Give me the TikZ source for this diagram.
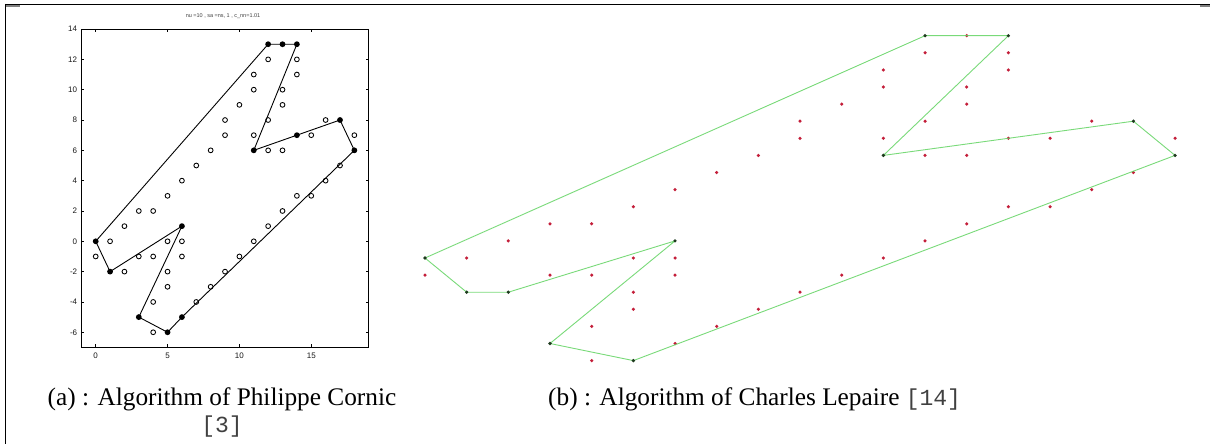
\documentclass[tikz,border=0pt]{standalone}
\usepackage{fontspec}
\setmainfont{Liberation Serif}
\newfontfamily\monof{Liberation Mono}
\newfontfamily\plotf{Liberation Sans}
\definecolor{hullgreen}{HTML}{62D462}
\definecolor{dotred}{HTML}{C41E3A}
\definecolor{vtxdark}{HTML}{1E3A1E}
\begin{document}
\begin{tikzpicture}[x=1pt,y=-1pt,
  opendot/.style={circle,draw=black,line width=0.85pt,inner sep=0pt,minimum size=4.8pt},
  filldot/.style={circle,fill=black,inner sep=0pt,minimum size=5.8pt},
  reddot/.style={circle,fill=dotred,inner sep=0pt,minimum size=3.5pt},
  vtxdot/.style={circle,fill=vtxdark,inner sep=0pt,minimum size=3.6pt},
  hullL/.style={line width=0.9pt,black,line join=round},
  hullR/.style={line width=0.9pt,hullgreen,line join=round},
  ticklab/.style={inner sep=0pt,font=\plotf\fontsize{8}{9}\selectfont,text=black!90},
  capstyle/.style={inner sep=0pt,font=\fontsize{25.3}{30}\selectfont},
  monostyle/.style={inner sep=0pt,font=\monof\fontsize{23}{28}\selectfont,text=black!75},
  frame/.style={line width=1.1pt,black}]
\useasboundingbox (0,0) rectangle (1210,444);
\fill[white] (0,0) rectangle (1210,444);
% outer border
\draw[frame] (5,4.5) -- (1210,4.5);
\draw[frame] (5.5,4) -- (5.5,444);
\draw[gray,line width=1.5pt] (6,5.8) -- (20,5.8);
\draw[gray,line width=1.5pt] (1200,5.8) -- (1210,5.8);
% ---------------- left plot ----------------
\node[inner sep=0pt,font=\plotf\fontsize{5.5}{6}\selectfont,text=black!75] (ttl) at (223,16) {nu =10 , sa =ns, 1 , c\_nn=1.01};
\begin{scope}[shift={(95.7,241.3)},x=14.37pt,y=15.16pt]
  \draw[line width=0.9pt] (-1,-7) rectangle (19,14);
  \foreach \v in {0,5,10,15} {
    \draw[line width=0.6pt] (\v,-7) -- ++(0,3pt);
    \draw[line width=0.6pt] (\v,14) -- ++(0,-3pt);
    \node[ticklab,anchor=north] at ([yshift=-5pt]\v,-7) {\v};
  }
  \foreach \v in {-6,-4,...,14} {
    \draw[line width=0.6pt] (-1,\v) -- ++(3pt,0);
    \draw[line width=0.6pt] (19,\v) -- ++(-3pt,0);
    \node[ticklab,anchor=east] at ([xshift=-4pt]-1,\v) {\v};
  }
  \foreach \p in {(12,12),(14,12),(11,11),(14,11),(11,10),(13,10),(10,9),(13,9),(9,8),(12,8),(16,8),(9,7),(11,7),(15,7),(18,7),(12,6),(13,6),(8,6),(7,5),(17,5),(6,4),(16,4),(5,3),(14,3),(15,3),(3,2),(4,2),(13,2),(2,1),(12,1),(1,0),(5,0),(6,0),(11,0),(0,-1),(3,-1),(4,-1),(6,-1),(10,-1),(2,-2),(5,-2),(9,-2),(5,-3),(8,-3),(4,-4),(7,-4),(4,-6)}
    \node[opendot] at \p {};
  \coordinate (L1) at (0,0);
  \coordinate (L2) at (12,13);
  \coordinate (L3) at (13,13);
  \coordinate (L4) at (14,13);
  \coordinate (L5) at (11,6);
  \coordinate (L6) at (14,7);
  \coordinate (L7) at (17,8);
  \coordinate (L8) at (18,6);
  \coordinate (L9) at (6,-5);
  \coordinate (L10) at (5,-6);
  \coordinate (L11) at (3,-5);
  \coordinate (L12) at (6,1);
  \coordinate (L13) at (1,-2);
  \draw[hullL] (L1) -- (L2) -- (L3) -- (L4) -- (L5) -- (L6) -- (L7) -- (L8) -- (L9) -- (L10) -- (L11) -- (L12) -- (L13) -- cycle;
  \foreach \n in {L1,L2,L3,L4,L5,L6,L7,L8,L9,L10,L11,L12,L13}
    \node[filldot] at (\n) {};
\end{scope}
% ---------------- right plot ----------------
\begin{scope}[shift={(425,258)},x=41.67pt,y=17.1pt]
  \foreach \p in {(12,12),(14,12),(11,11),(14,11),(11,10),(13,10),(10,9),(13,9),(9,8),(12,8),(16,8),(9,7),(11,7),(15,7),(18,7),(12,6),(13,6),(8,6),(7,5),(17,5),(6,4),(16,4),(5,3),(14,3),(15,3),(3,2),(4,2),(13,2),(2,1),(12,1),(1,0),(5,0),(6,0),(11,0),(0,-1),(3,-1),(4,-1),(6,-1),(10,-1),(5,-2),(9,-2),(5,-3),(8,-3),(4,-4),(7,-4),(4,-6),(13,13),(14,7),(6,-5)}
    \node[reddot] at \p {};
  \coordinate (R1) at (0,0);
  \coordinate (R2) at (12,13);
  \coordinate (R3) at (14,13);
  \coordinate (R4) at (11,6);
  \coordinate (R5) at (17,8);
  \coordinate (R6) at (18,6);
  \coordinate (R7) at (5,-6);
  \coordinate (R8) at (3,-5);
  \coordinate (R9) at (6,1);
  \coordinate (R10) at (2,-2);
  \coordinate (R11) at (1,-2);
  \draw[hullR,opacity=0.85] (R1) -- (R2) -- (R3) -- (R4) -- (R5) -- (R6) -- (R7) -- (R8) -- (R9) -- (R10) -- (R11) -- cycle;
  \foreach \n in {R1,R2,R3,R4,R5,R6,R7,R8,R9,R10,R11}
    \node[vtxdot] at (\n) {};
\end{scope}
% ---------------- captions ----------------
\node[capstyle,anchor=base] (capa) at (222,405) {(a) : Algorithm of Philippe Cornic};
\node[monostyle,anchor=base] (capa2) at (222,432) {[3]};
\node[capstyle,anchor=base west] (capb) at (548,405) {(b) : Algorithm of Charles Lepaire {\monof\fontsize{23}{28}\selectfont\color{black!75}[14]}};
\end{tikzpicture}
\end{document}
